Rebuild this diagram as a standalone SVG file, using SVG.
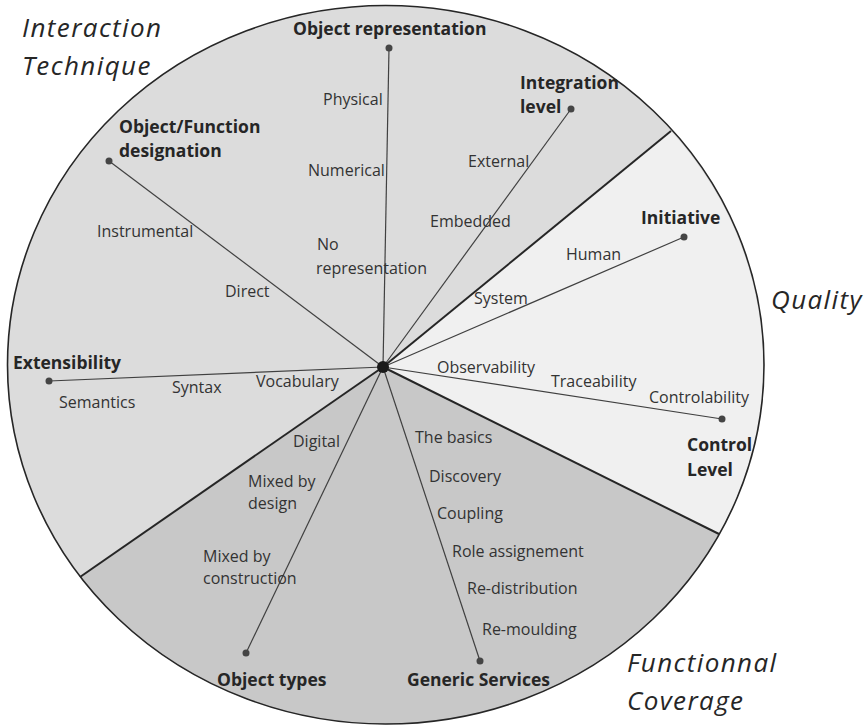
<svg xmlns="http://www.w3.org/2000/svg" width="867" height="727" viewBox="0 0 867 727">
<style>
.lbl{font-family:"Open Sans","Liberation Sans",sans-serif;font-size:16px;fill:#333}
.ttl{font-family:"Open Sans","Liberation Sans",sans-serif;font-size:17.5px;font-weight:bold;fill:#262626}
.cat{font-family:"Open Sans","Liberation Sans",sans-serif;font-size:26px;font-style:italic;letter-spacing:1.4px;fill:#262626}
.spoke{stroke:#404040;stroke-width:1.2;fill:none}
.bound{stroke:#262626;stroke-width:2;fill:none}
.dot{fill:#454545}
</style>
<g id="sectors">
<ellipse cx="385.75" cy="364.75" rx="378.25" ry="359.25" fill="#dcdcdc"/>
<path d="M383 367 L671 131 A378.25 359.25 0 0 1 719 534 Z" fill="#f0f0f0"/>
<path d="M383 367 L719 534 A378.25 359.25 0 0 1 80 577 Z" fill="#c8c8c8"/>
<ellipse cx="385.75" cy="364.75" rx="378.25" ry="359.25" fill="none" stroke="#262626" stroke-width="1.6"/>
</g>
<g id="connectors">
<line class="bound" x1="383" y1="367" x2="671" y2="131"/>
<line class="bound" x1="383" y1="367" x2="719" y2="534"/>
<line class="bound" x1="383" y1="367" x2="80" y2="577"/>
<line class="spoke" x1="383" y1="367" x2="389" y2="48"/>
<line class="spoke" x1="383" y1="367" x2="571" y2="109"/>
<line class="spoke" x1="383" y1="367" x2="109" y2="161"/>
<line class="spoke" x1="383" y1="367" x2="684" y2="237"/>
<line class="spoke" x1="383" y1="367" x2="49" y2="381"/>
<line class="spoke" x1="383" y1="367" x2="722" y2="419"/>
<line class="spoke" x1="383" y1="367" x2="246" y2="653"/>
<line class="spoke" x1="383" y1="367" x2="480" y2="661"/>
</g>
<g id="hub"><circle cx="383" cy="367" r="6" fill="#1a1a1a"/></g>
<g id="categories">
<text class="cat" x="22" y="37">Interaction</text>
<text class="cat" x="22" y="75">Technique</text>
<text class="cat" x="771" y="309">Quality</text>
<text class="cat" x="627" y="672">Functionnal</text>
<text class="cat" x="627" y="710">Coverage</text>
</g>
<g id="object-representation">
<circle class="dot" cx="389" cy="48" r="3.5"/>
<text class="ttl" x="293" y="35">Object representation</text>
<text class="lbl" x="323" y="105">Physical</text>
<text class="lbl" x="308" y="176">Numerical</text>
<text class="lbl" x="317" y="250">No</text>
<text class="lbl" x="316" y="274">representation</text>
</g>
<g id="integration-level">
<circle class="dot" cx="571" cy="109" r="3.5"/>
<text class="ttl" x="520" y="89">Integration</text>
<text class="ttl" x="520" y="113">level</text>
<text class="lbl" x="468" y="167">External</text>
<text class="lbl" x="430" y="227">Embedded</text>
</g>
<g id="object-function-designation">
<circle class="dot" cx="109" cy="161" r="3.5"/>
<text class="ttl" x="119" y="133">Object/Function</text>
<text class="ttl" x="119" y="157">designation</text>
<text class="lbl" x="97" y="237">Instrumental</text>
<text class="lbl" x="225" y="297">Direct</text>
</g>
<g id="extensibility">
<circle class="dot" cx="49" cy="381" r="3.5"/>
<text class="ttl" x="13" y="369">Extensibility</text>
<text class="lbl" x="59" y="408">Semantics</text>
<text class="lbl" x="172" y="393">Syntax</text>
<text class="lbl" x="256" y="387">Vocabulary</text>
</g>
<g id="initiative">
<circle class="dot" cx="684" cy="237" r="3.5"/>
<text class="ttl" x="641" y="224">Initiative</text>
<text class="lbl" x="566" y="260">Human</text>
<text class="lbl" x="474" y="304">System</text>
</g>
<g id="control-level">
<circle class="dot" cx="722" cy="419" r="3.5"/>
<text class="ttl" x="687" y="451">Control</text>
<text class="ttl" x="687" y="476">Level</text>
<text class="lbl" x="437" y="373">Observability</text>
<text class="lbl" x="551" y="387">Traceability</text>
<text class="lbl" x="649" y="403">Controlability</text>
</g>
<g id="object-types">
<circle class="dot" cx="246" cy="653" r="3.5"/>
<text class="ttl" x="217" y="686">Object types</text>
<text class="lbl" x="293" y="447">Digital</text>
<text class="lbl" x="248" y="487">Mixed by</text>
<text class="lbl" x="248" y="509">design</text>
<text class="lbl" x="203" y="562">Mixed by</text>
<text class="lbl" x="203" y="584">construction</text>
</g>
<g id="generic-services">
<circle class="dot" cx="480" cy="661" r="3.5"/>
<text class="ttl" x="407" y="686">Generic Services</text>
<text class="lbl" x="415" y="443">The basics</text>
<text class="lbl" x="429" y="482">Discovery</text>
<text class="lbl" x="437" y="519">Coupling</text>
<text class="lbl" x="452" y="557">Role assignement</text>
<text class="lbl" x="467" y="594">Re-distribution</text>
<text class="lbl" x="482" y="635">Re-moulding</text>
</g>
</svg>
